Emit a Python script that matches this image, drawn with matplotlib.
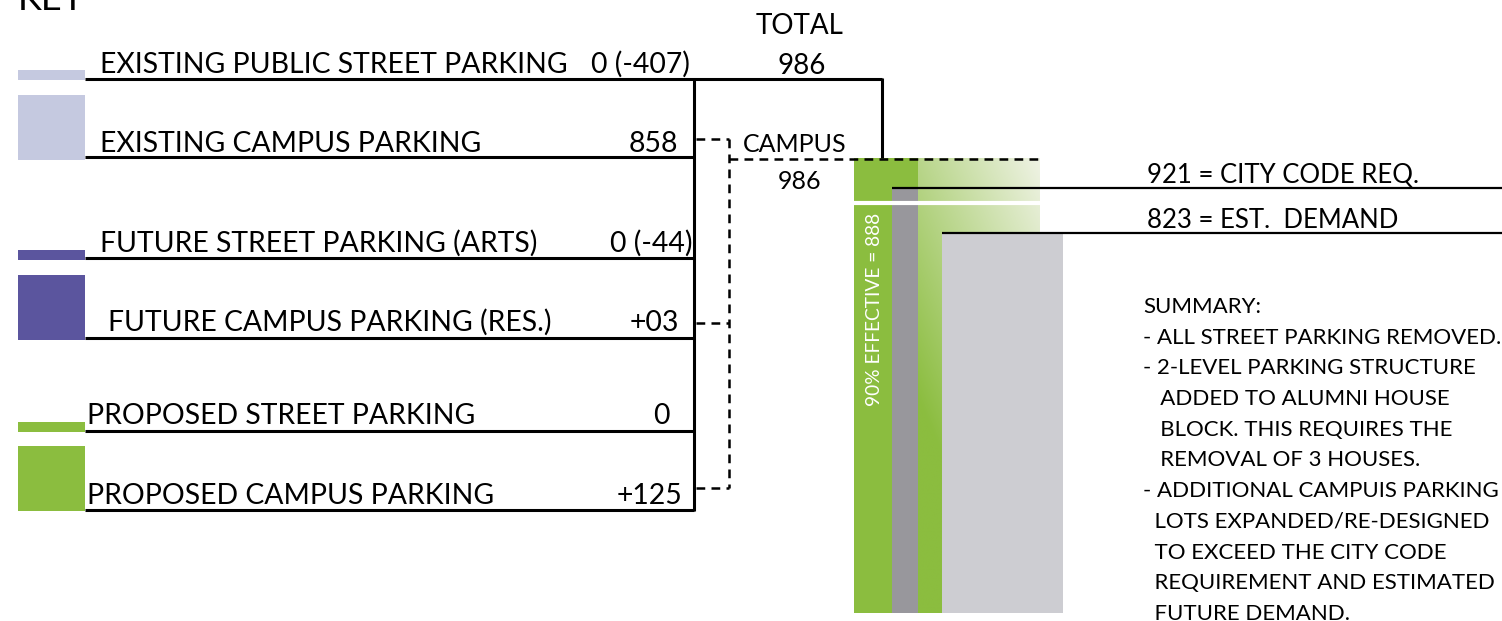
import numpy as np
import matplotlib
matplotlib.use("Agg")
import matplotlib.pyplot as plt

plt.rcParams['font.family'] = ['Lato', 'DejaVu Sans']

# ---------------- data ----------------
categories = ["EXISTING PUBLIC STREET PARKING", "EXISTING CAMPUS PARKING",
              "FUTURE STREET PARKING (ARTS)", "FUTURE CAMPUS PARKING (RES.)",
              "PROPOSED STREET PARKING", "PROPOSED CAMPUS PARKING"]
row_values = ["0 (-407)", "858", "0 (-44)", "+03", "0", "+125"]
total_value = 986
campus_value = 986
city_code_req = 921
est_demand = 823
effective_value = 888
summary_lines = ["SUMMARY:",
                 "- ALL STREET PARKING REMOVED.",
                 "- 2-LEVEL PARKING STRUCTURE",
                 "   ADDED TO ALUMNI HOUSE",
                 "   BLOCK. THIS REQUIRES THE",
                 "   REMOVAL OF 3 HOUSES.",
                 "- ADDITIONAL CAMPUIS PARKING",
                 "  LOTS EXPANDED/RE-DESIGNED",
                 "  TO EXCEED THE CITY CODE",
                 "  REQUIREMENT AND ESTIMATED",
                 "  FUTURE DEMAND."]

# ---------------- styles / layout ----------------
W, H = 1502, 621
GREEN = "#8BBD3F"
DGRAY = "#98979C"
LGRAY = "#CDCDD2"
LAV = "#C5C9E0"
PURP = "#5B559E"
swatch_cols = [LAV, LAV, PURP, PURP, GREEN, GREEN]

fig = plt.figure(figsize=(W / 100, H / 100), dpi=100)

# ---------------- bar axes (below the drawing layer) ----------------
bx0, bx1 = 853, 1063
by_top, by_bot = 158, 613
bax = fig.add_axes([bx0 / W, 1 - by_bot / H, (bx1 - bx0) / W, (by_bot - by_top) / H])
bax.set_zorder(1)

bar_left = [854, 892, 918, 942]
bar_width = [64, 26, 24, 121]
bar_vals = [campus_value, city_code_req, campus_value, est_demand]
bar_cols = [GREEN, DGRAY, GREEN, LGRAY]

# gradient block (drawn behind light gray bar)
gx0, gx1 = 918, 1040
nx, ny = 200, 300
xs = np.linspace(0, 1, nx)
ys = np.linspace(0, 1, ny)  # 0 bottom -> 1 top
XX, YY = np.meshgrid(xs, ys)
px_y = by_bot - YY * (by_bot - by_top)
f = np.clip(0.0041 * XX * (gx1 - gx0) + 0.00175 * (400 - px_y), 0, 0.97)
g = np.array(matplotlib.colors.to_rgb(GREEN))
wht = np.array([0.97, 0.97, 0.95])
img = g[None, None, :] * (1 - f[..., None]) + wht[None, None, :] * f[..., None]

for i in range(4):
    if i == 2:
        bax.imshow(img, extent=[gx0, gx1, 0, campus_value], origin='lower',
                   aspect='auto', zorder=1, interpolation='bilinear')
        continue
    bax.bar(bar_left[i], bar_vals[i], width=bar_width[i], align='edge',
            color=bar_cols[i], lw=0, zorder=2 + (i == 1))
bax.set_xlim(bx0, bx1)
bax.set_ylim(0, total_value)
bax.axis('off')

# white separator at effective capacity
bax.plot([854, 1040], [effective_value, effective_value], color='white', lw=3,
         zorder=4, solid_capstyle='butt')

# rotated label
bax.text(874, 0.668 * total_value, f"90% EFFECTIVE = {effective_value}",
         rotation=90, color='white', fontsize=13.8, ha='center', va='center',
         zorder=5)

# ---------------- drawing layer (pixel coordinates) ----------------
ax = fig.add_axes([0, 0, 1, 1])
ax.set_zorder(2)
ax.patch.set_alpha(0)
ax.set_xlim(0, W)
ax.set_ylim(H, 0)
ax.axis('off')

# KEY title (cut at top)
ax.text(18, 10, "KEY", fontsize=26, va='baseline', ha='left')

line_y = [79, 157, 258, 338, 431, 510]
base_y = [73, 152, 252, 331, 424, 504]
sw_top = [70, 95, 250, 275, 422, 446]
sw_bot = [80, 160, 260, 340, 432, 511]
text_x = [100, 100, 100, 108, 87, 87]
val_x = [690, 678, 692, 679, 670, 682]

for i, cat in enumerate(categories):
    ax.add_patch(plt.Rectangle((18, sw_top[i]), 67, sw_bot[i] - sw_top[i],
                               color=swatch_cols[i], lw=0))
    x_end = 882 if i == 0 else 694
    ax.plot([85, x_end], [line_y[i], line_y[i]], color='black', lw=2.2,
            solid_capstyle='butt')
    ax.text(text_x[i], base_y[i], cat, fontsize=20.4, va='baseline', ha='left')
    ax.text(val_x[i], base_y[i], row_values[i], fontsize=20.4, va='baseline',
            ha='right')

# vertical bracket
ax.plot([694, 694], [78, 511], color='black', lw=2.2, solid_capstyle='butt')
ax.plot([882, 882], [78, 158], color='black', lw=2.2, solid_capstyle='butt')

# dashed connectors
dash = dict(color='black', lw=1.8, linestyle=(0, (3.5, 2.5)))
ax.plot([696, 729], [139, 139], **dash)
ax.plot([729, 729], [139, 488], **dash)
ax.plot([696, 729], [323, 323], **dash)
ax.plot([696, 729], [488, 488], **dash)
ax.plot([729, 1040], [159, 159], **dash)

# totals
ax.text(800, 34, "TOTAL", fontsize=20, ha='center', va='baseline')
ax.text(802, 74, f"{total_value}", fontsize=20, ha='center', va='baseline')
ax.text(795, 152, "CAMPUS", fontsize=18, ha='center', va='baseline')
ax.text(800, 189, f"{campus_value}", fontsize=18, ha='center', va='baseline')


def to_px_y(v):
    return by_bot - v / total_value * (by_bot - by_top)


ax.plot([892, W], [to_px_y(city_code_req)] * 2, color='black', lw=1.6,
        solid_capstyle='butt')
ax.plot([942, W], [to_px_y(est_demand)] * 2, color='black', lw=1.6,
        solid_capstyle='butt')
ax.text(1147, to_px_y(city_code_req) - 5, f"{city_code_req} = CITY CODE REQ.",
        fontsize=18.5, va='baseline', ha='left')
ax.text(1147, to_px_y(est_demand) - 5, f"{est_demand} = EST.  DEMAND",
        fontsize=18.5, va='baseline', ha='left')

# summary
for k, line in enumerate(summary_lines):
    ax.text(1143, 307 + k * 30.7, line, fontsize=16, va='center', ha='left')

fig.savefig("out.png", dpi=100)
